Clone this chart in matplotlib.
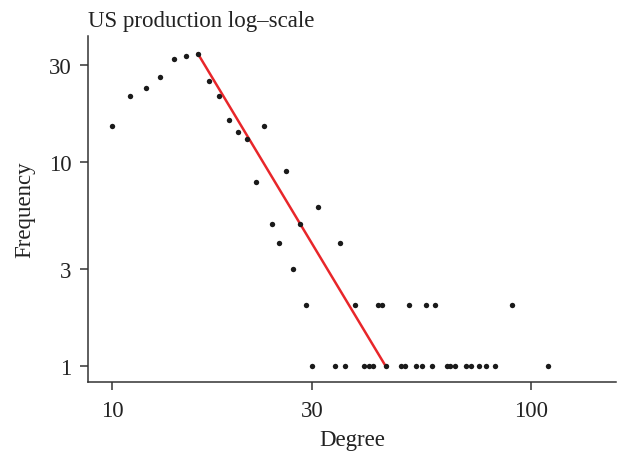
import matplotlib
matplotlib.use("Agg")
import matplotlib.pyplot as plt

# degree distribution (degree -> number of nodes)
degree = [10, 11, 12, 13, 14, 15, 16, 17, 18, 19, 20, 21, 22, 23, 24, 25,
          26, 27, 28, 29, 30, 31, 34, 35, 36, 38, 40, 41, 42, 43, 44, 45,
          49, 50, 51, 53, 55, 56, 58, 59, 63, 64, 66, 70, 72, 75, 78, 82,
          90, 110]
frequency = [15, 21, 23, 26, 32, 33, 34, 25, 21, 16, 14, 13, 8, 15, 5, 4,
             9, 3, 5, 2, 1, 6, 1, 4, 1, 2, 1, 1, 1, 2, 2, 1,
             1, 1, 2, 1, 1, 2, 1, 2, 1, 1, 1, 1, 1, 1, 1, 1,
             2, 1]

# power-law fit over the tail
fit_x = [16, 45]
fit_y = [34, 1]

xticks = [10, 30, 100]
yticks = [1, 3, 10, 30]

plt.rcParams["font.family"] = ["Liberation Serif", "DejaVu Serif"]
plt.rcParams["font.size"] = 16.5

fig = plt.figure(figsize=(6.18, 4.52), dpi=100)
ax = fig.add_axes([0.1429, 0.1533, 0.8534, 0.765])

ax.scatter(degree, frequency, s=15, color="#1a1a1a", linewidths=0, zorder=3)
ax.plot(fit_x, fit_y, color="#e8262a", lw=1.8, zorder=2)

ax.set_xscale("log")
ax.set_yscale("log")
ax.set_xlim(8.76, 159.4)
ax.set_ylim(0.841, 41.5)

ax.set_xticks(xticks)
ax.set_xticklabels([str(t) for t in xticks])
ax.set_yticks(yticks)
ax.set_yticklabels([str(t) for t in yticks])
ax.minorticks_off()

for side in ["top", "right"]:
    ax.spines[side].set_visible(False)
for side in ["left", "bottom"]:
    ax.spines[side].set_linewidth(1.1)
    ax.spines[side].set_color("#333333")
ax.tick_params(length=6, width=1.1, color="#333333", labelcolor="#222222")
ax.tick_params(axis="x", pad=7)
ax.tick_params(axis="y", pad=6)

ax.set_xlabel("Degree", color="#222222", labelpad=6)
ax.set_ylabel("Frequency", color="#222222", labelpad=10)
ax.set_title("US production log\u2013scale", loc="left", color="#222222",
             fontsize=16.5, pad=7)

fig.savefig("out.png", dpi=100)
